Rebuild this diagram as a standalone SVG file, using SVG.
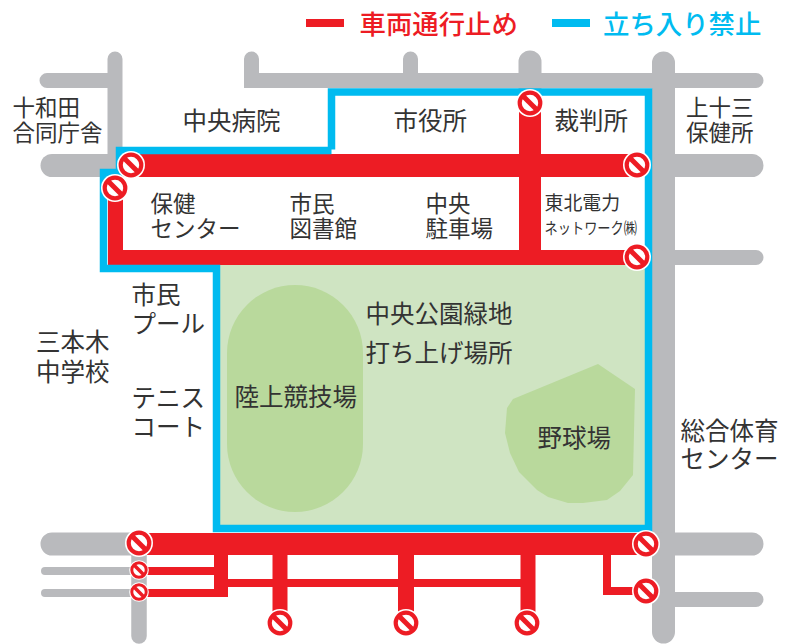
<svg xmlns="http://www.w3.org/2000/svg" width="789" height="644" viewBox="0 0 789 644">
<style>
text{font-family:"Noto Sans CJK JP","Noto Sans",sans-serif;fill:#333;font-size:24.500px}
.s22{font-size:22.500px}
.road{fill:none;stroke:#b9babd;stroke-linecap:round}
.red{fill:#ed1c24}
.blue{fill:none;stroke:#00bbf0;stroke-width:7.500;stroke-linejoin:miter}
.halo{fill:#fff}
.lg{font-size:26.400px;font-weight:500}
</style>
<defs>
<g id="ne">
<circle r="14" class="halo"/>
<circle r="10.300" fill="#fff" stroke="#ed1c24" stroke-width="4.200"/>
<line x1="-7.800" y1="-7.800" x2="7.800" y2="7.800" stroke="#ed1c24" stroke-width="5"/>
</g>
</defs>
<g id="park">
<rect x="218" y="265" width="429" height="262" fill="#cfe4c2"/>
<rect x="227" y="285" width="136" height="227" rx="68" ry="68" fill="#b9d99c"/>
<polygon points="598,364 635,389 633,475 620,491 607,500 583,503 568,503 548,497 537,490 519,472 510,453 505,433 507,408 513,399" fill="#b9d99c"/>
</g>
<g id="connectors">
<g id="roads">
<path class="road" stroke-width="15" d="M115 59V160M47 80.500H115"/>
<path class="road" stroke-width="23" d="M52 165.500H123"/>
<path class="road" stroke-width="15" d="M251.500 59V80.500M251.500 80.500H756M410.500 59V80"/>
<path d="M244 73h8v15h-8z" fill="#b9babd"/>
<path class="road" stroke-width="23" d="M530 62V88M663.500 63V632"/>
<path class="road" stroke-width="23" d="M663 165.500H752M663 544H752M52 544H140"/>
<path class="road" stroke-width="15" d="M663 257.500H756M663 599.500H756"/>
<path class="road" stroke-width="8" d="M45 571H140M45 593H140"/>
<path class="road" stroke-width="15.500" d="M139 544V636"/>
</g>
<g id="closed-red">
<path class="red" d="M123 154H640V177H123ZM108 177H123V250H645V265H108ZM519 100H541V250H519ZM147 533H640V555H147ZM147 567H214V555H228V597H147V589H214V575H147ZM228 579H272.500V555H287.500V579H398V555H414V579H520.500V555H535.500V620H520.500V587H414V620H398V587H287.500V620H272.500V587H228ZM603 555H611V587H640V595H603Z"/>
</g>
<g id="closed-blue">
<path class="blue" d="M331.500 149.500V92H648.500V528.500H216.500V268.500H103.500V172.500H119.500V150.500H331.500"/>
</g>
<g id="no-entry">
<use href="#ne" x="131" y="165"/>
<use href="#ne" x="115" y="188"/>
<use href="#ne" x="530" y="103"/>
<use href="#ne" x="637" y="165"/>
<use href="#ne" x="637" y="257"/>
<use href="#ne" x="139" y="543"/>
<use href="#ne" transform="translate(139 570) scale(.7)"/>
<use href="#ne" transform="translate(139 592) scale(.7)"/>
<use href="#ne" x="280" y="623"/>
<use href="#ne" x="406" y="623"/>
<use href="#ne" x="527" y="623"/>
<use href="#ne" x="646" y="544"/>
<use href="#ne" x="646" y="591"/>
</g>
</g>
<g id="legend">
<rect x="306" y="19" width="38" height="8" fill="#ed1c24"/>
<text class="lg" x="359.500" y="34" style="fill:#ed1c24">車両通行止め</text>
<rect x="552" y="19" width="38" height="8" fill="#00bbf0"/>
<text class="lg" x="603" y="34" style="fill:#00bbf0">立ち入り禁止</text>
</g>
<g id="n-towada"><text class="s22" x="12.500" y="116">十和田</text><text class="s22" x="12.500" y="141">合同庁舎</text></g>
<g id="n-hospital"><text x="182.500" y="130">中央病院</text></g>
<g id="n-cityhall"><text x="393.500" y="130">市役所</text></g>
<g id="n-court"><text x="554.500" y="130">裁判所</text></g>
<g id="n-kamijusan"><text class="s22" x="686" y="116">上十三</text><text class="s22" x="686" y="141">保健所</text></g>
<g id="n-health"><text class="s22" x="150.500" y="212">保健</text><text class="s22" x="150.500" y="237">センター</text></g>
<g id="n-library"><text class="s22" x="289.500" y="212">市民</text><text class="s22" x="289.500" y="237">図書館</text></g>
<g id="n-parking"><text class="s22" x="425.500" y="212">中央</text><text class="s22" x="425.500" y="237">駐車場</text></g>
<g id="n-tohoku"><text x="544.500" y="210" style="font-size:18.900px">東北電力</text><text x="544.500" y="234" style="font-size:15.500px" textLength="92.500" lengthAdjust="spacingAndGlyphs">ネットワーク㈱</text></g>
<g id="n-pool"><text x="131.500" y="304">市民</text><text x="131.500" y="333">プール</text></g>
<g id="n-tennis"><text x="131.500" y="407">テニス</text><text x="131.500" y="436">コート</text></g>
<g id="n-sanbongi"><text x="36" y="351">三本木</text><text x="36" y="381">中学校</text></g>
<g id="n-park"><text x="365.500" y="323">中央公園緑地</text><text x="365.500" y="362">打ち上げ場所</text></g>
<g id="n-stadium"><text x="234.500" y="406">陸上競技場</text></g>
<g id="n-baseball"><text x="537.500" y="447">野球場</text></g>
<g id="n-gym"><text x="680.500" y="440">総合体育</text><text x="680.500" y="468">センター</text></g>
</svg>
